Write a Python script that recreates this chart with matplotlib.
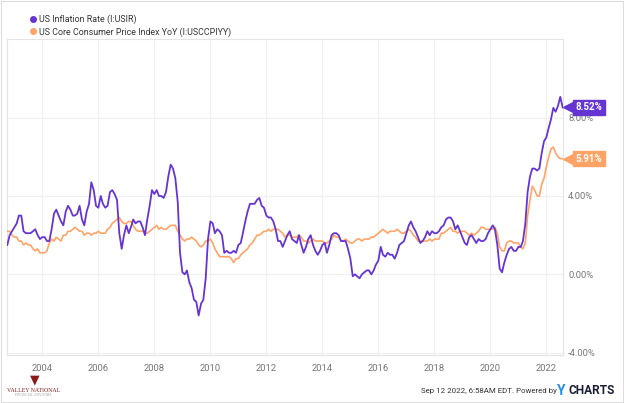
import matplotlib
matplotlib.use('Agg')
import matplotlib.pyplot as plt
import matplotlib.dates as mdates
from matplotlib.lines import Line2D
from matplotlib import transforms
import pandas as pd

plt.rcParams['font.family'] = ['Roboto', 'DejaVu Sans']

# meses de set/2002 a jul/2022 (fim de mes)
inicio = '2002-09-30'

# US Inflation Rate (CPI YoY, %)
inflacao = [
    1.5, 2.0, 2.2, 2.4,
    2.6, 3.0, 3.0, 2.2, 2.1, 2.1, 2.1, 2.2, 2.3, 2.0, 1.8, 1.9,
    1.9, 1.7, 1.7, 2.3, 3.1, 3.3, 3.0, 2.7, 2.5, 3.2, 3.5, 3.3,
    3.0, 3.0, 3.1, 3.5, 2.8, 2.5, 3.2, 3.6, 4.7, 4.3, 3.5, 3.4,
    4.0, 3.6, 3.4, 3.5, 4.2, 4.3, 4.1, 3.8, 2.1, 1.3, 2.0, 2.5,
    2.1, 2.4, 2.8, 2.6, 2.7, 2.7, 2.4, 2.0, 2.8, 3.5, 4.3, 4.1,
    4.3, 4.0, 4.0, 3.9, 4.2, 5.0, 5.6, 5.4, 4.9, 3.7, 1.1, 0.1,
    0.0, 0.2, -0.4, -0.7, -1.3, -1.4, -2.1, -1.5, -1.3, -0.2, 1.8, 2.7,
    2.6, 2.1, 2.3, 2.2, 2.0, 1.1, 1.2, 1.1, 1.1, 1.2, 1.1, 1.5,
    1.6, 2.1, 2.7, 3.2, 3.6, 3.6, 3.6, 3.8, 3.9, 3.5, 3.4, 3.0,
    2.9, 2.9, 2.7, 2.3, 1.7, 1.7, 1.4, 1.7, 2.0, 2.2, 1.8, 1.7,
    1.6, 2.0, 1.5, 1.1, 1.4, 1.8, 2.0, 1.5, 1.2, 1.0, 1.2, 1.5,
    1.6, 1.1, 1.5, 2.0, 2.1, 2.1, 2.0, 1.7, 1.7, 1.7, 1.3, 0.8,
    -0.1, 0.0, -0.1, -0.2, 0.0, 0.1, 0.2, 0.2, 0.0, 0.2, 0.5, 0.7,
    1.4, 1.0, 0.9, 1.1, 1.0, 1.0, 0.8, 1.1, 1.5, 1.6, 1.7, 2.1,
    2.5, 2.7, 2.4, 2.2, 1.9, 1.6, 1.7, 1.9, 2.2, 2.0, 2.2, 2.1,
    2.1, 2.2, 2.4, 2.5, 2.8, 2.9, 2.9, 2.7, 2.3, 2.5, 2.2, 1.9,
    1.6, 1.5, 1.9, 2.0, 1.8, 1.6, 1.8, 1.7, 1.7, 1.8, 2.1, 2.3,
    2.5, 2.3, 1.5, 0.3, 0.1, 0.6, 1.0, 1.3, 1.4, 1.2, 1.2, 1.4,
    1.4, 1.7, 2.6, 4.2, 5.0, 5.4, 5.4, 5.3, 5.4, 6.2, 6.8, 7.0,
    7.5, 7.9, 8.5, 8.3, 8.6, 9.06, 8.52,
]

# US Core CPI YoY (%)
nucleo = [
    2.2, 2.2, 2.0, 1.9,
    1.9, 1.7, 1.7, 1.5, 1.6, 1.5, 1.5, 1.3, 1.2, 1.3, 1.1, 1.1,
    1.1, 1.2, 1.6, 1.8, 1.7, 1.9, 1.8, 1.7, 2.0, 2.0, 2.2, 2.2,
    2.3, 2.4, 2.3, 2.2, 2.2, 2.0, 2.1, 2.1, 2.0, 2.1, 2.1, 2.2,
    2.1, 2.1, 2.1, 2.3, 2.4, 2.6, 2.7, 2.8, 2.9, 2.7, 2.6, 2.6,
    2.7, 2.7, 2.5, 2.3, 2.2, 2.2, 2.2, 2.1, 2.1, 2.2, 2.3, 2.4,
    2.5, 2.3, 2.4, 2.3, 2.3, 2.4, 2.5, 2.5, 2.5, 2.2, 2.0, 1.8,
    1.7, 1.8, 1.8, 1.9, 1.8, 1.7, 1.5, 1.4, 1.5, 1.7, 1.7, 1.8,
    1.6, 1.3, 1.1, 0.9, 0.9, 0.9, 0.9, 0.9, 0.8, 0.6, 0.8, 0.8,
    1.0, 1.1, 1.2, 1.3, 1.5, 1.6, 1.8, 2.0, 2.0, 2.1, 2.2, 2.2,
    2.3, 2.2, 2.3, 2.3, 2.3, 2.2, 2.1, 1.9, 2.0, 2.0, 1.9, 1.9,
    1.9, 2.0, 1.9, 1.7, 1.7, 1.6, 1.7, 1.8, 1.7, 1.7, 1.7, 1.7,
    1.6, 1.6, 1.7, 1.8, 2.0, 1.9, 1.9, 1.7, 1.7, 1.8, 1.7, 1.6,
    1.6, 1.7, 1.8, 1.8, 1.7, 1.8, 1.8, 1.8, 1.9, 1.9, 2.0, 2.1,
    2.2, 2.3, 2.2, 2.1, 2.2, 2.2, 2.2, 2.3, 2.2, 2.1, 2.1, 2.2,
    2.3, 2.2, 2.0, 1.9, 1.7, 1.7, 1.7, 1.7, 1.7, 1.8, 1.7, 1.8,
    1.8, 1.8, 2.1, 2.1, 2.2, 2.3, 2.4, 2.2, 2.2, 2.1, 2.2, 2.2,
    2.2, 2.1, 2.0, 2.1, 2.0, 2.1, 2.2, 2.4, 2.4, 2.3, 2.3, 2.3,
    2.3, 2.4, 2.1, 1.4, 1.2, 1.2, 1.6, 1.7, 1.7, 1.6, 1.6, 1.6,
    1.4, 1.3, 1.6, 3.0, 3.8, 4.5, 4.3, 4.0, 4.0, 4.6, 4.9, 5.5,
    6.0, 6.4, 6.5, 6.2, 6.0, 5.9, 5.91,
]

nomes = ['US Inflation Rate (I:USIR)', 'US Core Consumer Price Index YoY (I:USCCPIYY)']
cores = ['#6535d3', '#ffa466']
yticks = [-4, 0, 4, 8]

datas = pd.date_range(inicio, periods=len(inflacao), freq='ME')

fig = plt.figure(figsize=(6.24, 4.03), dpi=100)
ax = fig.add_axes([0.0117, 0.12, 0.89, 0.7825])

ax.plot(datas, nucleo, color=cores[1], lw=1.2, zorder=3)
ax.plot(datas, inflacao, color=cores[0], lw=1.3, zorder=4)

ax.set_xlim(datas[0], datas[-1])
ax.set_ylim(-4.1, 12)

# eixos
ax.xaxis.set_major_locator(mdates.YearLocator(2))
ax.xaxis.set_major_formatter(mdates.DateFormatter('%Y'))
ax.yaxis.tick_right()
ax.set_yticks(yticks)
ax.set_yticklabels([f'{v:.2f}%' for v in yticks])
ax.tick_params(axis='both', length=0, labelsize=6.8, labelcolor='#777777')
ax.tick_params(axis='x', pad=7)
ax.tick_params(axis='y', pad=4)
ax.grid(True, color='#efefef', lw=0.8)
ax.set_axisbelow(True)
for s in ax.spines.values():
    s.set_color('#e4e4e4')
    s.set_linewidth(0.8)

# etiquetas do ultimo valor
for serie, cor in zip([inflacao, nucleo], cores):
    val = serie[-1]
    tr = transforms.offset_copy(ax.get_yaxis_transform(), fig=fig, x=5, y=0, units='dots')
    ax.plot([1], [val], marker='<', ms=7, color=cor, transform=tr, clip_on=False, zorder=6)
    ax.annotate(f'{val:.2f}%', xy=(1, val), xycoords=ax.get_yaxis_transform(),
                xytext=(13, 0), textcoords='offset pixels', ha='left', va='center',
                fontsize=7, fontweight='bold', color='white', annotation_clip=False,
                bbox=dict(boxstyle='square,pad=0.25', fc=cor, ec=cor), zorder=7)

# legenda
handles = [Line2D([], [], marker='o', ls='none', ms=4, color=c) for c in cores]
fig.legend(handles, nomes, loc='upper left', bbox_to_anchor=(0.034, 0.982), frameon=False,
           fontsize=6.4, handletextpad=0.2, labelspacing=0.35, handlelength=1.0,
           labelcolor='#333333', borderpad=0.3)

# rodape
fig.text(0.892, 0.03, 'Sep 12 2022, 6:58AM EDT. Powered by', fontsize=5.7, color='#333333',
         ha='right', va='center')
fig.text(0.893, 0.03, 'Y', fontsize=10, color='#1c8ff0', fontweight='bold', ha='left', va='center')
fig.text(0.986, 0.03, 'CHARTS', fontsize=8.6, color='#1a1f36', fontweight='bold', ha='right',
         va='center')

# logo
fig.text(0.055, 0.058, '\u25bc', fontsize=9, color='#8b1c1c', ha='center', va='center')
fig.text(0.053, 0.032, 'VALLEY NATIONAL', fontsize=4.2, color='#8b1c1c', ha='center', va='center',
         family='Liberation Serif')
fig.text(0.053, 0.019, 'FINANCIAL ADVISORS', fontsize=2.5, color='#999999', ha='center',
         va='center', family='Liberation Serif')

# moldura externa
fig.patches.append(plt.Rectangle((0.002, 0.002), 0.996, 0.996, transform=fig.transFigure,
                                 fill=False, ec='#dddddd', lw=0.8))

fig.savefig('out.png', dpi=100)
